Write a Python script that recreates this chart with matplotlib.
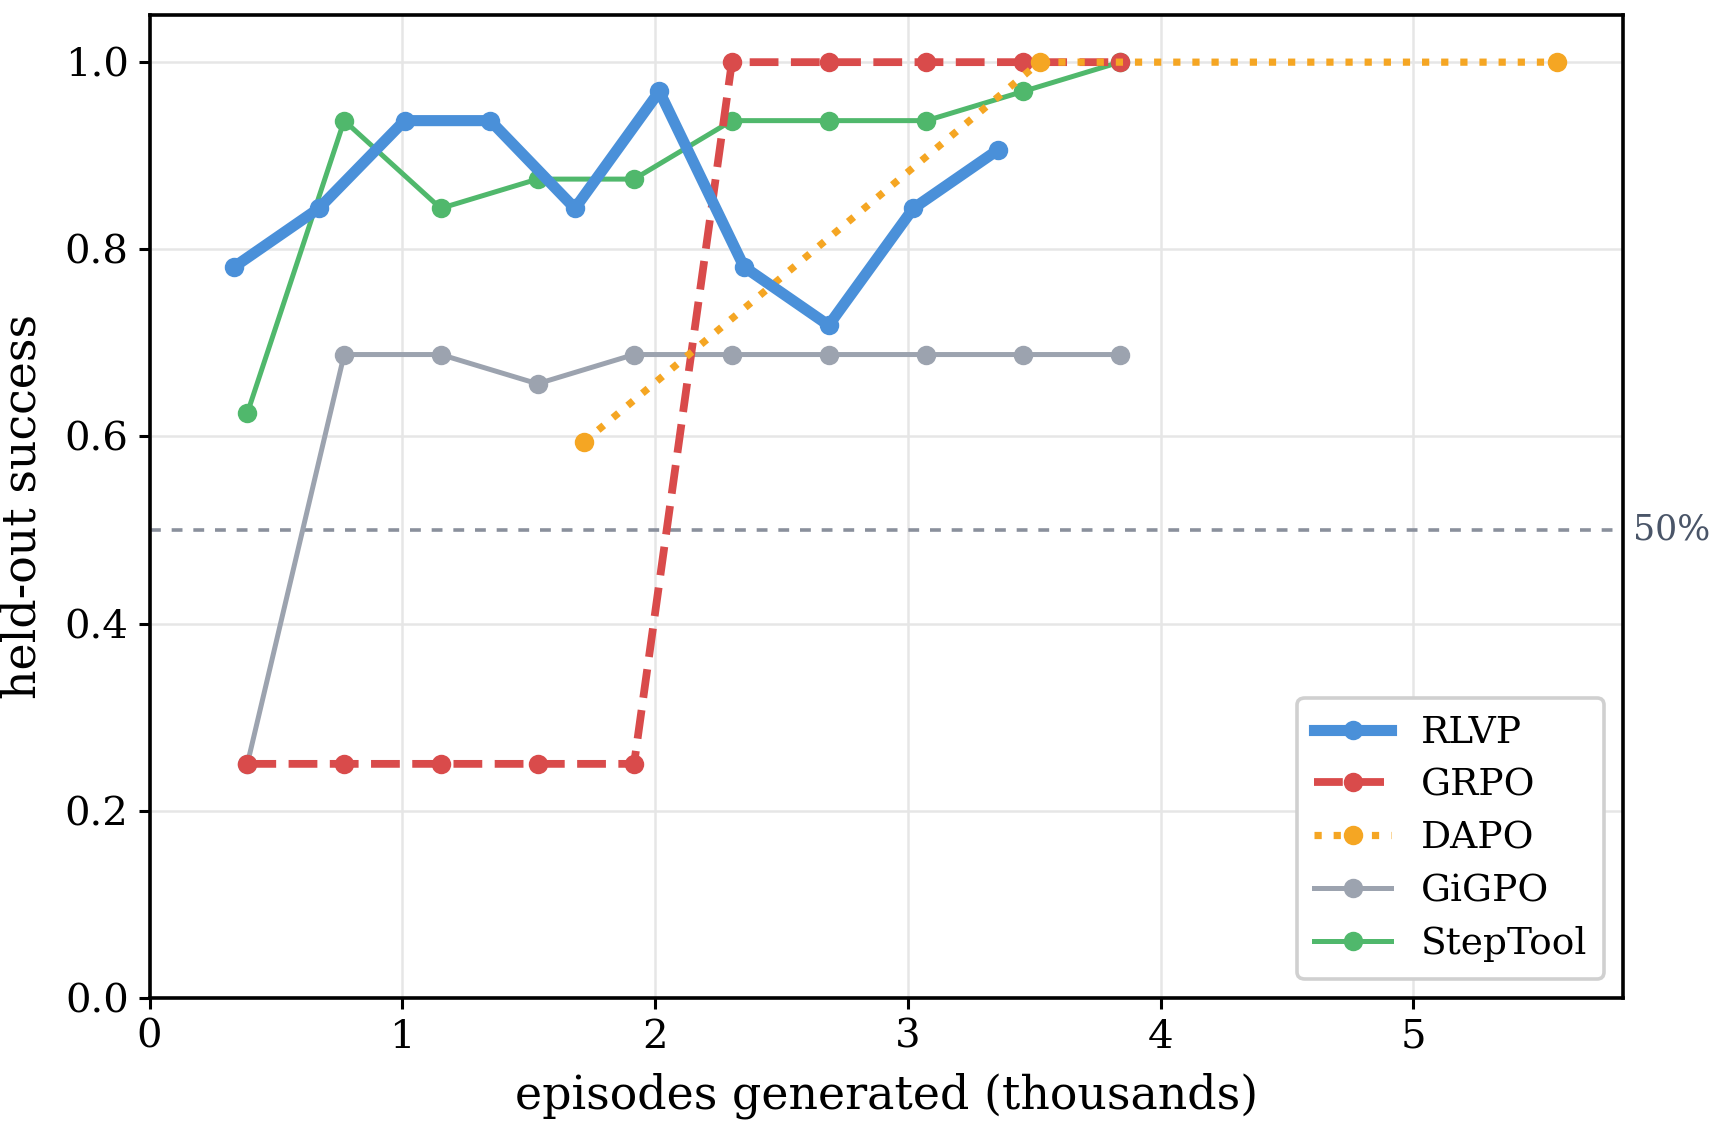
import matplotlib
matplotlib.use("Agg")
import matplotlib.pyplot as plt

# held-out success vs episodes generated (thousands)
rlvp_x = [0.335, 0.670, 1.009, 1.348, 1.683, 2.017, 2.352, 2.687, 3.022, 3.357]
rlvp_y = [25/32, 27/32, 30/32, 30/32, 27/32, 31/32, 25/32, 23/32, 27/32, 29/32]

base_x = [0.387, 0.770, 1.152, 1.535, 1.917, 2.304, 2.687, 3.074, 3.457, 3.839]
grpo_y = [0.25, 0.25, 0.25, 0.25, 0.25, 1.0, 1.0, 1.0, 1.0, 1.0]
gigpo_y = [0.25, 22/32, 22/32, 21/32, 22/32, 22/32, 22/32, 22/32, 22/32, 22/32]
steptool_y = [20/32, 30/32, 27/32, 28/32, 28/32, 30/32, 30/32, 30/32, 31/32, 1.0]

dapo_x = [1.717, 3.522, 5.570]
dapo_y = [19/32, 1.0, 1.0]

plt.rcParams['font.family'] = 'DejaVu Serif'

fig = plt.figure(figsize=(1723/200, 1139/200), dpi=200)
ax = fig.add_axes([0.0868, 0.124, 0.8552, 0.8625])

ax.plot(rlvp_x, rlvp_y, color='#4a90d9', lw=4, marker='o', ms=6, label='RLVP', zorder=6)
ax.plot(base_x, grpo_y, color='#d94b4b', lw=2.8, ls='--', marker='o', ms=6, label='GRPO', zorder=4)
ax.plot(dapo_x, dapo_y, color='#f5a623', lw=2.6, ls=':', marker='o', ms=6, label='DAPO', zorder=4.5)
ax.plot(base_x, gigpo_y, color='#9ca3af', lw=1.8, marker='o', ms=6, label='GiGPO', zorder=3)
ax.plot(base_x, steptool_y, color='#50b86c', lw=1.8, marker='o', ms=6, label='StepTool', zorder=3.5)

ax.axhline(0.5, color='#8a909c', lw=1.3, ls=(0, (3, 3)), zorder=2)
ax.text(1.007, 0.5, '50%', transform=ax.get_yaxis_transform(), color='#4a5568',
        fontsize=12.5, va='center', ha='left')

ax.set_xlim(0, 5.83)
ax.set_ylim(0, 1.05)
ax.set_xticks([0, 1, 2, 3, 4, 5])
ax.set_yticks([0.0, 0.2, 0.4, 0.6, 0.8, 1.0])
ax.grid(True, color='#e6e6e6', lw=0.9)
ax.set_axisbelow(True)
for s in ax.spines.values():
    s.set_linewidth(1.3)
ax.tick_params(labelsize=14.5, width=1.1, length=4)

ax.set_xlabel('episodes generated (thousands)', fontsize=16.5, labelpad=6)
ax.set_ylabel('held-out success', fontsize=16.5, labelpad=7)

leg = ax.legend(loc='lower right', fontsize=13.5, frameon=True, fancybox=True,
                edgecolor='#d0d0d0', framealpha=1.0, handlelength=2.05, borderpad=0.45,
                labelspacing=0.45)
leg.get_frame().set_linewidth(1.3)

fig.savefig('out.png', dpi=200)
